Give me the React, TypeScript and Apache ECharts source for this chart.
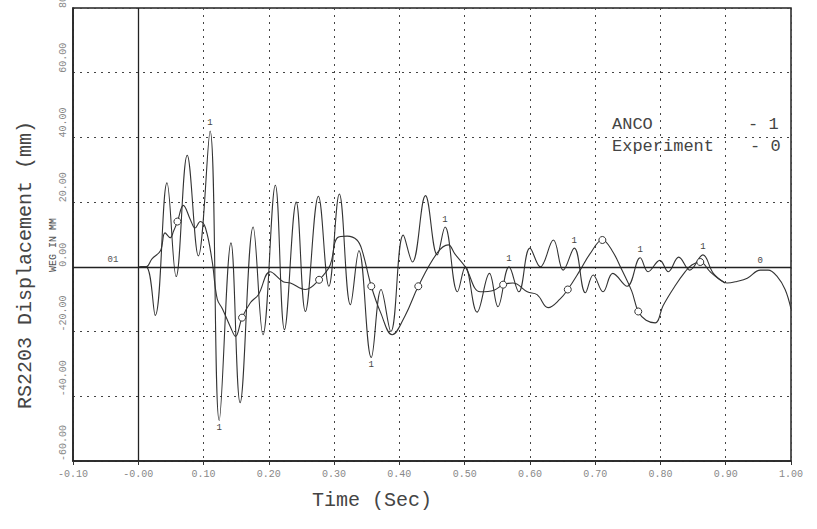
import React, { useEffect, useRef } from "react";
import * as echarts from "echarts";

// ---- data ----
const ancoTime = [
  0.0, 0.012, 0.026, 0.044, 0.058, 0.075, 0.092, 0.11, 0.124, 0.142, 0.156, 0.176, 0.191, 0.21, 0.224,
  0.242, 0.256, 0.276, 0.292, 0.308, 0.325, 0.338, 0.357, 0.372, 0.387, 0.406, 0.42, 0.44, 0.458, 0.47,
  0.489, 0.501, 0.519, 0.538, 0.551, 0.568, 0.583, 0.6, 0.616, 0.636, 0.651, 0.668, 0.685, 0.697, 0.712,
  0.727, 0.749, 0.769, 0.781, 0.799, 0.812, 0.828, 0.845, 0.865, 0.881, 0.899,
];
const ancoDisp = [
  0, 0, -15, 26, -3, 34.5, 3.4, 42, -47.5, 7.4, -42, 12.3, -21, 25.2, -19.4,
  20, -13.8, 21.8, -6, 22.5, -11.7, 5, -28, -7, -20, 9.8, 1.5, 22, 3.7, 12.3,
  -7.7, 0, -14, -2, -12.3, 0, -7.7, 5.8, 0, 8.3, -1, 5.8, -8, -2.5, -7.7,
  -2, -6, 2.8, -1.5, 2, -1.5, 3, -1, 3.7, -2, -5,
];
const ancoLabelIdx = [7, 8, 22, 29, 35, 41, 47, 53];

const expTime = [
  0.003, 0.012, 0.021, 0.034, 0.041, 0.049, 0.054, 0.06, 0.069, 0.08, 0.087, 0.095, 0.103, 0.113, 0.121,
  0.129, 0.141, 0.149, 0.159, 0.172, 0.184, 0.202, 0.222, 0.233, 0.256, 0.277, 0.294, 0.305, 0.32, 0.335,
  0.343, 0.357, 0.371, 0.389, 0.409, 0.429, 0.458, 0.475, 0.485, 0.501, 0.524, 0.545, 0.559, 0.574, 0.596,
  0.611, 0.628, 0.646, 0.658, 0.677, 0.692, 0.711, 0.726, 0.741, 0.756, 0.766, 0.778, 0.792, 0.804, 0.822,
  0.838, 0.848, 0.861, 0.876, 0.888, 0.902, 0.917, 0.933, 0.953, 0.965, 0.979, 0.991, 1.0,
];
const expDisp = [
  0, 0, 2.5, 5, 10.5, 9, 11, 14, 19, 14.5, 12, 14, 12, 2, -10,
  -13, -18.5, -21.5, -15.7, -11, -8.6, -1.5, -4.6, -5, -7, -4, 0.6, 9, 9.5, 8.3,
  5, -6, -14, -21, -15, -6, 4.3, 6.8, 4, 0, -7.7, -7.2, -5.5, -5, -7.7,
  -8.6, -12.6, -10, -7, -1, 4, 8.3, 5, -1, -7.5, -13.8, -16.5, -17.3, -12, -6,
  -1.5, 0.6, 1.5, -1.5, -3.5, -5, -4.5, -3.5, -1, -1, -3, -7, -13,
];
const expMarkerIdx = [7, 18, 25, 31, 35, 42, 48, 51, 55, 62];
const expTextIdx = [68];

const xMin = -0.1;
const xMax = 1.0;
const xStep = 0.1;
const yMin = -60;
const yMax = 80;
const yStep = 20;

const yTitle = "RS2203 Displacement (mm)";
const xTitle = "Time (Sec)";
const yNote = "WEG IN MM";
const legendNames = ["ANCO", "Experiment"];
const legendCodes = ["- 1", "- 0"];
const startNote = "01";

const MONO = "'Liberation Mono', 'DejaVu Sans Mono', monospace";

export default function App() {
  const ref = useRef<HTMLDivElement>(null);

  useEffect(() => {
    if (!ref.current) return;
    const chart = echarts.init(ref.current, undefined, { renderer: "svg" });

    const ancoData = ancoTime.map((t, i) => {
      const v = ancoDisp[i];
      if (ancoLabelIdx.includes(i)) {
        return {
          value: [t, v],
          symbolSize: 0,
          label: {
            show: true,
            formatter: "1",
            position: v >= 0 ? "top" : "bottom",
            distance: 3,
            fontSize: 9,
            fontFamily: MONO,
            color: "#444",
          },
        };
      }
      return { value: [t, v], symbolSize: 0 };
    });

    const expData = expTime.map((t, i) => {
      const v = expDisp[i];
      if (expMarkerIdx.includes(i)) {
        return {
          value: [t, v],
          symbol: "circle",
          symbolSize: 7,
          itemStyle: { color: "#fff", borderColor: "#333", borderWidth: 1 },
        };
      }
      if (expTextIdx.includes(i)) {
        return {
          value: [t, v],
          symbolSize: 0,
          label: {
            show: true,
            formatter: "0",
            position: "top",
            distance: 5,
            fontSize: 9,
            fontFamily: MONO,
            color: "#444",
          },
        };
      }
      return { value: [t, v], symbolSize: 0 };
    });

    const option: any = {
      animation: false,
      backgroundColor: "#fff",
      grid: {
        left: 73,
        right: 26,
        top: 8,
        bottom: 68,
        containLabel: false,
        outerBoundsMode: "none",
        show: true,
        borderColor: "#222",
        borderWidth: 1.5,
        backgroundColor: "transparent",
      },
      xAxis: {
        type: "value",
        min: xMin,
        max: xMax,
        interval: xStep,
        axisLine: { show: true, onZero: false, lineStyle: { color: "#222", width: 1.5 } },
        axisTick: { show: true, length: 4, lineStyle: { color: "#333" } },
        splitLine: { show: true, lineStyle: { color: "#444", type: [2, 5], width: 1 } },
        axisLabel: {
          color: "#888",
          fontSize: 10,
          fontFamily: MONO,
          margin: 8,
          formatter: (v: number) => (Math.abs(v) < 1e-9 ? "-0.00" : v.toFixed(2)),
        },
      },
      yAxis: {
        type: "value",
        min: yMin,
        max: yMax,
        interval: yStep,
        axisLine: { show: true, onZero: false, lineStyle: { color: "#222", width: 1.5 } },
        axisTick: { show: false },
        splitLine: { show: true, lineStyle: { color: "#444", type: [2, 5], width: 1 } },
        axisLabel: {
          color: "#888",
          fontSize: 10,
          fontFamily: MONO,
          rotate: 90,
          align: "left",
          verticalAlign: "middle",
          margin: 10,
          formatter: (v: number) => v.toFixed(2),
        },
      },
      series: [
        {
          name: legendNames[0],
          type: "line",
          data: ancoData,
          smooth: 0.4,
          symbol: "circle",
          showSymbol: true,
          lineStyle: { color: "#333", width: 1.1 },
          itemStyle: { color: "#333" },
          z: 3,
          markLine: {
            silent: true,
            symbol: ["none", "none"],
            label: { show: false },
            lineStyle: { type: "solid", color: "#222", width: 1.3 },
            data: [{ yAxis: 0 }, { xAxis: 0 }],
          },
        },
        {
          name: legendNames[1],
          type: "line",
          data: expData,
          smooth: 0.4,
          symbol: "circle",
          showSymbol: true,
          lineStyle: { color: "#333", width: 1.1 },
          itemStyle: { color: "#333" },
          z: 4,
        },
      ],
      graphic: [
        {
          type: "text",
          x: 25,
          y: 265,
          rotation: Math.PI / 2,
          style: {
            text: yTitle,
            fontFamily: MONO,
            fontSize: 20,
            fill: "#444",
            align: "center",
            verticalAlign: "middle",
          },
        },
        {
          type: "text",
          x: 53,
          y: 245,
          rotation: Math.PI / 2,
          style: {
            text: yNote,
            fontFamily: MONO,
            fontSize: 10,
            fill: "#555",
            align: "center",
            verticalAlign: "middle",
          },
        },
        {
          type: "text",
          x: 372,
          y: 500,
          style: {
            text: xTitle,
            fontFamily: MONO,
            fontSize: 20,
            fill: "#444",
            align: "center",
            verticalAlign: "middle",
          },
        },
        {
          type: "text",
          x: 612,
          y: 124,
          style: { text: legendNames[0], fontFamily: MONO, fontSize: 17, fill: "#444", verticalAlign: "middle" },
        },
        {
          type: "text",
          x: 748,
          y: 124,
          style: { text: legendCodes[0], fontFamily: MONO, fontSize: 17, fill: "#444", verticalAlign: "middle" },
        },
        {
          type: "text",
          x: 612,
          y: 146,
          style: { text: legendNames[1], fontFamily: MONO, fontSize: 17, fill: "#444", verticalAlign: "middle" },
        },
        {
          type: "text",
          x: 750,
          y: 146,
          style: { text: legendCodes[1], fontFamily: MONO, fontSize: 17, fill: "#444", verticalAlign: "middle" },
        },
        {
          type: "text",
          x: 113,
          y: 260,
          style: {
            text: startNote,
            fontFamily: MONO,
            fontSize: 9,
            fill: "#555",
            align: "center",
            verticalAlign: "middle",
          },
        },
      ],
    };

    chart.setOption(option);
    return () => chart.dispose();
  }, []);

  return (
    <div
      ref={ref}
      style={{ position: "fixed", left: 0, top: 0, width: 817, height: 529, background: "#fff" }}
    />
  );
}
